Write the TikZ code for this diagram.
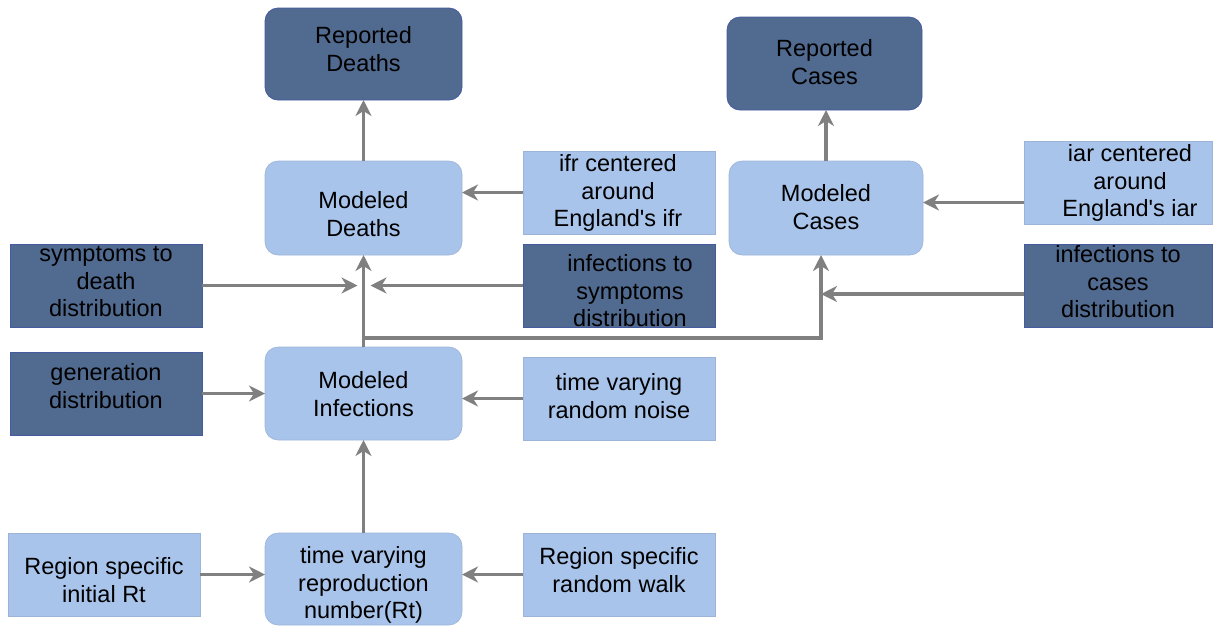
\documentclass[tikz,border=0pt]{standalone}
\usepackage{fontspec}
\setmainfont{Liberation Sans}[Ligatures=TeXOff]
\usetikzlibrary{arrows.meta}
\definecolor{darkb}{RGB}{81,106,143}
\definecolor{lightb}{RGB}{169,196,235}
\definecolor{arrg}{RGB}{128,128,128}
\tikzset{
  base/.style={rectangle, inner sep=0pt, outer sep=0pt},
  dk/.style={base, fill=darkb, draw=darkb!85!blue, line width=0.8pt},
  lt/.style={base, fill=lightb, draw=lightb!92!black, line width=0.6pt},
  rnd/.style={rounded corners=13pt},
  txt/.style={align=center, font=\fontsize{23.5}{27.5}\selectfont, inner sep=0pt, text=black},
  arr/.style={draw=arrg, line width=3.6pt, -{Stealth[length=16pt,width=16pt,inset=5pt]}},
}
\begin{document}
\begin{tikzpicture}[x=1pt,y=-1pt]
\useasboundingbox (0,0) rectangle (1230,625);
\clip (0,0) rectangle (1230,625);
% boxes
\node[dk,rnd,minimum width=197pt,minimum height=92pt] (rd) at (363.5,54) {};
\node[dk,rnd,minimum width=195pt,minimum height=93pt] (rc) at (824.5,63.5) {};
\node[lt,rnd,minimum width=197pt,minimum height=94pt] (md) at (363.5,208) {};
\node[lt,rnd,minimum width=194pt,minimum height=94pt] (mc) at (826,208) {};
\node[lt,minimum width=192pt,minimum height=83pt] (ifr) at (619,192.5) {};
\node[dk,minimum width=192pt,minimum height=83pt] (ist) at (619,285.5) {};
\node[lt,minimum width=188pt,minimum height=83pt] (iar) at (1118,182.5) {};
\node[dk,minimum width=188pt,minimum height=83pt] (itc) at (1118,285.5) {};
\node[dk,minimum width=192pt,minimum height=83pt] (sd) at (106,285.5) {};
\node[dk,minimum width=192pt,minimum height=83pt] (gen) at (106,393.5) {};
\node[lt,rnd,minimum width=197pt,minimum height=93pt] (mi) at (363.5,393.5) {};
\node[lt,minimum width=192pt,minimum height=83pt] (noise) at (619,398.5) {};
\node[lt,minimum width=192pt,minimum height=83pt] (init) at (104,574.5) {};
\node[lt,rnd,minimum width=197pt,minimum height=92pt] (rt) at (363.5,579) {};
\node[lt,minimum width=192pt,minimum height=83pt] (walk) at (619,574.5) {};
% connectors
\draw[arr] (md.north) -- (rd.south);
\draw[arr] (mc.north) -- (mc.north |- rc.south);
\draw[arr] (ifr.west) -- (ifr.west -| md.east);
\draw[arr] ([yshift=-20pt]iar.west) -- ([yshift=-20pt]iar.west -| mc.east);
\draw[arr] (mi.north) -- (md.south);
\coordinate (br) at ([yshift=9pt]mi.north);
\coordinate (mcin) at ([xshift=-5pt]mc.south);
\draw[arr] (br) -| (mcin);
\draw[arr] (sd.east) -- ([xshift=-6pt]sd.east -| md.south);
\draw[arr] (ist.west) -- ([xshift=7pt]ist.west -| md.south);
\draw[arr] ([yshift=-8.5pt]itc.west) -- ([yshift=-8.5pt]itc.west -| mcin);
\draw[arr] (gen.east) -- (mi.west);
\draw[arr] (noise.west) -- (noise.west -| mi.east);
\draw[arr] (rt.north) -- (mi.south);
\draw[arr] (init.east) -- (init.east -| rt.west);
\draw[arr] (walk.west) -- (walk.west -| rt.east);
% texts
\node[txt] (rd-t) at (363.5,49) {Reported\\Deaths};
\node[txt] (rc-t) at (824.5,62) {Reported\\Cases};
\node[txt] (md-t) at (363.5,214) {Modeled\\Deaths};
\node[txt] (mc-t) at (826,207) {Modeled\\Cases};
\node[txt] (ifr-t) at (618,193) {ifr centered\\around\\England's ifr};
\node[txt] (ist-t) at (630,291) {infections to\\symptoms\\distribution};
\node[txt] (iar-t) at (1130,183) {iar centered\\around\\England's iar};
\node[txt] (itc-t) at (1118,282) {infections to\\cases\\distribution};
\node[txt] (sd-t) at (106,282) {symptoms to\\death\\distribution};
\node[txt] (gen-t) at (106,386) {generation\\distribution};
\node[txt] (mi-t) at (363.5,394) {Modeled\\Infections};
\node[txt] (noise-t) at (619,396) {time varying\\random noise};
\node[txt] (init-t) at (104,580) {Region specific\\initial Rt};
\node[txt] (rt-t) at (363.5,585) {time varying\\reproduction\\number(Rt)};
\node[txt] (walk-t) at (619,570) {Region specific\\random walk};
\end{tikzpicture}
\end{document}
